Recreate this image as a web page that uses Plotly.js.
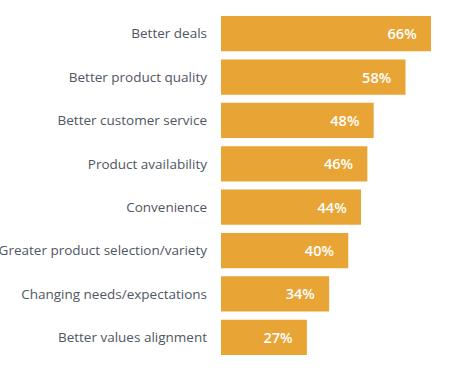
<!DOCTYPE html>
<html>
<head>
<meta charset="utf-8">
<script src="https://cdn.plot.ly/plotly-3.0.1.min.js"></script>
<style>html,body{margin:0;padding:0;background:#fff;}#chart{width:458px;height:373px;}</style>
</head>
<body>
<div id="chart"></div>
<script>
var categories = ["Better deals","Better product quality","Better customer service","Product availability","Convenience","Greater product selection/variety","Changing needs/expectations","Better values alignment"];
var values = [66,58,48,46,44,40,34,27];

var trace = {
  type: 'bar',
  orientation: 'h',
  y: categories,
  x: values,
  marker: {color: '#E8A535'},
  texttemplate: '%{x}%\u00a0\u00a0\u00a0',
  textposition: 'inside',
  insidetextanchor: 'end',
  textfont: {family: 'Open Sans', size: 14.5, color: '#ffffff', weight: 600},
  hoverinfo: 'none',
  cliponaxis: false
};

var layout = {
  width: 458, height: 373,
  margin: {l: 221, r: 0, t: 12, b: 14},
  paper_bgcolor: '#ffffff', plot_bgcolor: '#ffffff',
  showlegend: false,
  bargap: 0.19,
  xaxis: {range: [0, 74.5], visible: false, fixedrange: true},
  yaxis: {autorange: 'reversed', showgrid: false, zeroline: false, showline: false, ticks: '', ticklabelstandoff: 13,
          tickfont: {family: 'Open Sans', size: 13.5, color: '#505662'}, fixedrange: true},
  uniformtext: {mode: false}
};

Plotly.newPlot('chart', [trace], layout, {displayModeBar: false, staticPlot: true});
</script>
</body>
</html>
